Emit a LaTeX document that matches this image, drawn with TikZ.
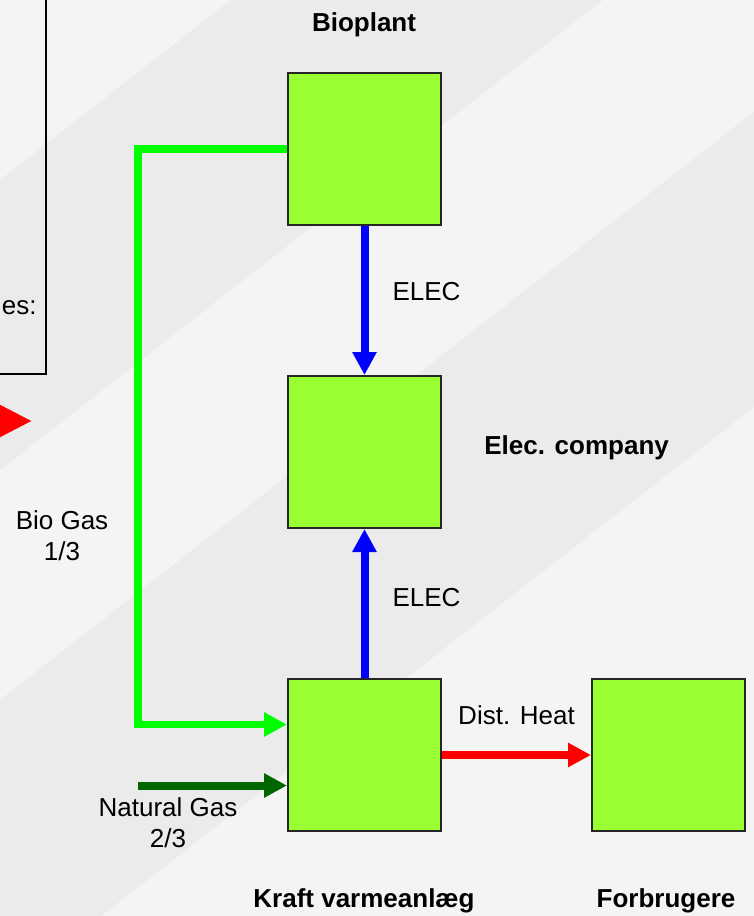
\documentclass[tikz,border=0pt]{standalone}
\usepackage{fontspec}
\setmainfont{Liberation Sans}
\usetikzlibrary{arrows.meta, positioning}
\definecolor{plantgreen}{RGB}{153,255,51}
\definecolor{biogreen}{RGB}{0,255,0}
\definecolor{natgreen}{RGB}{0,102,0}
\definecolor{bgdark}{RGB}{235,235,235}
\definecolor{bglight}{RGB}{244,244,244}

\begin{document}
\begin{tikzpicture}[
    x=0.5pt, y=-0.5pt,
    node distance=74.5pt,
    plant/.style={draw=black!85, line width=1pt, fill=plantgreen, minimum width=76.5pt, minimum height=76pt, inner sep=0pt},
    lbl/.style={font=\fontsize{13}{15.5}\selectfont, text=black, inner sep=0pt, align=center},
    title/.style={font=\fontsize{13}{15.5}\selectfont\bfseries, text=black, inner sep=0pt},
    tip/.style={-{Triangle[length=11.5pt, width=11.5pt]}},
    elecflow/.style={tip, blue, line width=4pt},
    bioflow/.style={tip, biogreen, line width=3.6pt},
    natflow/.style={tip, natgreen, line width=4pt},
    heatflow/.style={tip, red, line width=3.6pt}
  ]
    \useasboundingbox (0,0) rectangle (754,916);
    \clip (0,0) rectangle (754,916);
    % background stripes
    \fill[bglight] (0,0) rectangle (754,916);
    \foreach \ca/\cb in {180/470, 700/995}
      \fill[bgdark] (-10,{\ca+7.8}) -- (800,{\ca-624}) -- (800,{\cb-624}) -- (-10,{\cb+7.8}) -- cycle;

    % legend (cut off at the left)
    \node[draw, line width=1pt, minimum width=150pt, minimum height=200pt, anchor=south east] (legend) at (47,375) {};
    \node[lbl, anchor=base east] (legtext) at (37,314) {es:};
    \coordinate (legtail) at (-80,421);
    \coordinate (legtip) at (32,421);
    \draw[red, line width=4pt, -{Triangle[length=17pt, width=16pt]}] (legtail) -- (legtip);

    % plants
    \node[plant] (bio) at (364.5,149) {};
    \node[plant, below=of bio] (elec) {};
    \node[plant, below=of elec] (kraft) {};
    \node[plant, right=of kraft] (forbrug) {};

    \node[title, anchor=base] (biolbl) at (364,31) {Bioplant};
    \node[title, anchor=base west] (eleclbl) at (484,454) {Elec. company};
    \node[title, anchor=base] (kraftlbl) at (364,907) {Kraft varmeanlæg};
    \node[title, anchor=base] (forbruglbl) at (666,907) {Forbrugere};

    % flows
    \coordinate (gasx) at (138,0);
    \path ([yshift=15.25pt]kraft.west) coordinate (bioin);
    \path ([yshift=-15.25pt]kraft.west) coordinate (natin);
    \draw[elecflow] (bio) -- node[lbl, pos=0.5, anchor=base west, xshift=12pt]{ELEC} (elec);
    \draw[elecflow] (kraft) -- node[lbl, pos=0.5, anchor=base west, xshift=12pt, yshift=-1.5pt]{ELEC} (elec);
    \draw[bioflow] (bio.west) -| (bioin -| gasx) -- (bioin);
    \draw[natflow] (natin -| gasx) -- (natin);
    \draw[heatflow] (kraft) -- node[lbl, above=13.5pt]{Dist. Heat} (forbrug);

    \node[lbl] (biogas) at (62,536) {Bio Gas\\1/3};
    \node[lbl] (natgas) at (168,823) {Natural Gas\\2/3};
  \end{tikzpicture}
\end{document}
